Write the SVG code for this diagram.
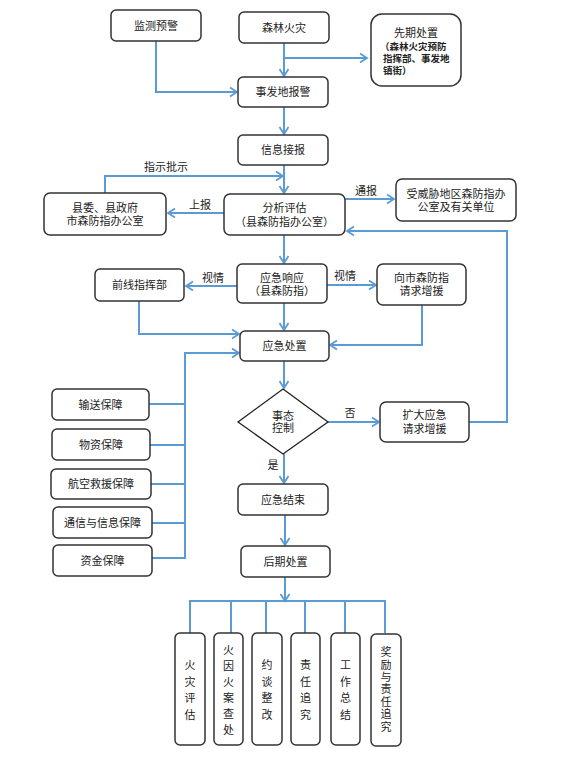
<svg xmlns="http://www.w3.org/2000/svg" width="574" height="757" viewBox="0 0 574 757">
<style>
.b{fill:#fff;stroke:#333;stroke-width:1.5}
.t{font-family:"Liberation Serif","Noto Sans CJK SC",serif;font-size:11px;fill:#222;text-anchor:middle;dominant-baseline:central}
.s{font-family:"Liberation Serif","Noto Sans CJK SC",serif;font-size:9.5px;fill:#222;font-weight:bold}
.c{fill:none;stroke:#5B9BD5;stroke-width:2}
.a{marker-end:url(#ah)}
</style>
<defs>
<marker id="ah" markerUnits="userSpaceOnUse" markerWidth="12" markerHeight="12" refX="9" refY="6" orient="auto">
<path d="M2,1.5 L9,6 L2,10.5" fill="none" stroke="#5B9BD5" stroke-width="1.8"/>
</marker>
</defs>
<rect width="574" height="757" fill="#fff"/>

<g id="connectors">
<path class="c a" d="M156,41 V92 H237"/>
<path class="c a" d="M284,43 V76"/>
<path class="c a" d="M284,58 H367"/>
<path class="c a" d="M284,107 V134"/>
<path class="c a" d="M284,165 V193"/>
<path class="c a" d="M105,193 V176 H283"/>
<path class="c a" d="M224,213 H168"/>
<path class="c a" d="M345,199 H394"/>
<path class="c a" d="M469,422 H507 V231 H347"/>
<path class="c a" d="M284,235 V263"/>
<path class="c a" d="M237,286 H186"/>
<path class="c a" d="M327,285 H376"/>
<path class="c a" d="M284,303 V330"/>
<path class="c a" d="M139,301 V334 H239"/>
<path class="c a" d="M422,305 V345 H330"/>
<path class="c a" d="M185,559 V353 H239"/>
<path class="c" d="M149,404 H185 M150,445 H185 M151,484 H185 M152,523 H185 M152,558 H185"/>
<path class="c a" d="M284,361 V388"/>
<path class="c a" d="M328,422 H379"/>
<path class="c a" d="M284,454 V483"/>
<path class="c a" d="M285,515 V545"/>
<path class="c a" d="M285,577 V601"/>
<path class="c" d="M190,633 V601 H385 V633 M231,601 V633 M266,601 V633 M305,601 V633 M345,601 V633"/>
</g>

<g id="n-jiance"><rect class="b" x="111" y="10" width="90" height="31" rx="5"/><text class="t" x="156" y="26">监测预警</text></g>
<g id="n-senlin"><rect class="b" x="239" y="12" width="90" height="31" rx="5"/><text class="t" x="284" y="28">森林火灾</text></g>
<g id="n-xianqi"><rect class="b" x="371" y="14" width="90" height="72" rx="11"/><text class="t" x="416" y="33">先期处置</text>
<text class="s" x="380" y="50">（森林火灾预防</text><text class="s" x="383" y="62">指挥部、事发地</text><text class="s" x="383" y="74">镇街）</text></g>
<g id="n-shifa"><rect class="b" x="238" y="77" width="90" height="30" rx="5"/><text class="t" x="283" y="92">事发地报警</text></g>
<g id="n-xinxi"><rect class="b" x="238" y="135" width="90" height="30" rx="5"/><text class="t" x="283" y="150">信息接报</text></g>
<g id="n-xianwei"><rect class="b" x="44" y="193" width="122" height="42" rx="6"/><text class="t" x="105" y="208">县委、县政府</text><text class="t" x="105" y="221">市森防指办公室</text></g>
<g id="n-fenxi"><rect class="b" x="224" y="194" width="121" height="41" rx="6"/><text class="t" x="284.5" y="208">分析评估</text><text class="t" x="284.5" y="222">（县森防指办公室）</text></g>
<g id="n-shouweixie"><rect class="b" x="396" y="179" width="120" height="42" rx="6"/><text class="t" x="456" y="194">受威胁地区森防指办</text><text class="t" x="456" y="207">公室及有关单位</text></g>
<g id="n-xiangying"><rect class="b" x="237" y="264" width="90" height="39" rx="5"/><text class="t" x="282" y="278">应急响应</text><text class="t" x="282" y="291">（县森防指）</text></g>
<g id="n-qianxian"><rect class="b" x="95" y="269" width="89" height="32" rx="5"/><text class="t" x="139.5" y="285">前线指挥部</text></g>
<g id="n-xiangshi"><rect class="b" x="377" y="264" width="89" height="41" rx="6"/><text class="t" x="421.5" y="278">向市森防指</text><text class="t" x="421.5" y="291">请求增援</text></g>
<g id="n-chuzhi"><rect class="b" x="240" y="331" width="89" height="30" rx="5"/><text class="t" x="284.5" y="346">应急处置</text></g>
<g id="n-shitai"><polygon points="283,389 328,422 283,454 238,422" fill="#fff" stroke="#222" stroke-width="1.3"/><text class="t" x="283" y="416">事态</text><text class="t" x="283" y="428">控制</text></g>
<g id="n-kuoda"><rect class="b" x="380" y="402" width="89" height="40" rx="6"/><text class="t" x="424.5" y="415">扩大应急</text><text class="t" x="424.5" y="429">请求增援</text></g>
<g id="n-jieshu"><rect class="b" x="238" y="484" width="90" height="31" rx="5"/><text class="t" x="283" y="500">应急结束</text></g>
<g id="n-houqi"><rect class="b" x="241" y="546" width="89" height="31" rx="5"/><text class="t" x="285.5" y="562">后期处置</text></g>

<g id="n-shusong"><rect class="b" x="52" y="389" width="97" height="31" rx="5"/><text class="t" x="100.5" y="405">输送保障</text></g>
<g id="n-wuzi"><rect class="b" x="52" y="429" width="98" height="31" rx="5"/><text class="t" x="101" y="445">物资保障</text></g>
<g id="n-hangkong"><rect class="b" x="51" y="469" width="100" height="30" rx="5"/><text class="t" x="101" y="484">航空救援保障</text></g>
<g id="n-tongxin"><rect class="b" x="53" y="507" width="99" height="31" rx="5"/><text class="t" x="102.5" y="523">通信与信息保障</text></g>
<g id="n-zijin"><rect class="b" x="53" y="545" width="99" height="31" rx="5"/><text class="t" x="102.5" y="561">资金保障</text></g>

<g id="n-pinggu"><rect class="b" x="175" y="633" width="30" height="112" rx="5"/><text class="t" x="190"><tspan x="190" y="665">火</tspan><tspan x="190" y="682">灾</tspan><tspan x="190" y="698">评</tspan><tspan x="190" y="715">估</tspan></text></g>
<g id="n-huoyin"><rect class="b" x="214" y="633" width="29" height="112" rx="5"/><text class="t"><tspan x="228.5" y="650">火</tspan><tspan x="228.5" y="666">因</tspan><tspan x="228.5" y="682">火</tspan><tspan x="228.5" y="698">案</tspan><tspan x="228.5" y="714">查</tspan><tspan x="228.5" y="730">处</tspan></text></g>
<g id="n-yuetan"><rect class="b" x="252" y="633" width="30" height="112" rx="5"/><text class="t"><tspan x="267" y="665">约</tspan><tspan x="267" y="682">谈</tspan><tspan x="267" y="698">整</tspan><tspan x="267" y="715">改</tspan></text></g>
<g id="n-zeren"><rect class="b" x="291" y="633" width="29" height="112" rx="5"/><text class="t"><tspan x="305.5" y="665">责</tspan><tspan x="305.5" y="682">任</tspan><tspan x="305.5" y="698">追</tspan><tspan x="305.5" y="715">究</tspan></text></g>
<g id="n-zongjie"><rect class="b" x="331" y="633" width="29" height="112" rx="5"/><text class="t"><tspan x="345.5" y="665">工</tspan><tspan x="345.5" y="682">作</tspan><tspan x="345.5" y="698">总</tspan><tspan x="345.5" y="715">结</tspan></text></g>
<g id="n-jiangli"><rect class="b" x="371" y="634" width="30" height="112" rx="5"/><text class="t"><tspan x="386" y="652">奖</tspan><tspan x="386" y="665">励</tspan><tspan x="386" y="677">与</tspan><tspan x="386" y="689">责</tspan><tspan x="386" y="702">任</tspan><tspan x="386" y="714">追</tspan><tspan x="386" y="727">究</tspan></text></g>

<g id="labels">
<text class="t" x="166" y="167">指示批示</text>
<text class="t" x="200" y="205">上报</text>
<text class="t" x="366" y="191">通报</text>
<text class="t" x="213" y="278">视情</text>
<text class="t" x="345" y="276">视情</text>
<text class="t" x="350" y="413">否</text>
<text class="t" x="273" y="465">是</text>
</g>
</svg>
